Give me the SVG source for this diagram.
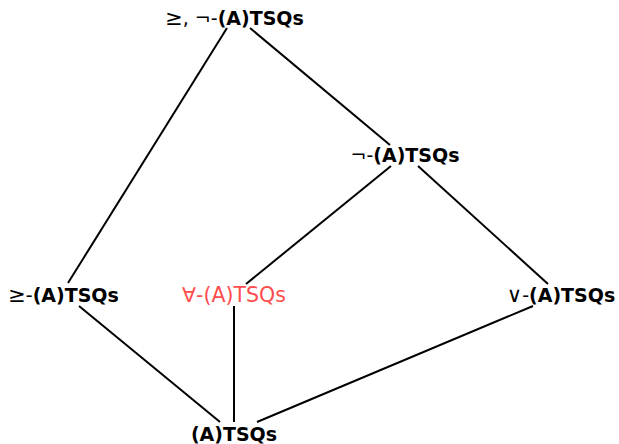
<svg xmlns="http://www.w3.org/2000/svg" width="619" height="444" viewBox="0 0 619 444">
<style>
text{font-family:"DejaVu Sans",sans-serif;font-size:19px;text-anchor:middle;fill:#000}
.b{font-weight:bold}
.s{font-size:21px}
.red{fill:#ff4d4d;font-size:20.5px}
.e{stroke:#000;stroke-width:2;fill:none}
</style>
<rect width="619" height="444" fill="#fff"/>
<g id="edges">
<line class="e" x1="250" y1="28" x2="390" y2="145"/>
<line class="e" x1="227" y1="28" x2="68" y2="283"/>
<line class="e" x1="391" y1="166" x2="246" y2="284"/>
<line class="e" x1="418" y1="166" x2="548" y2="284"/>
<line class="e" x1="79" y1="306" x2="220" y2="422"/>
<line class="e" x1="234" y1="306" x2="234" y2="422"/>
<line class="e" x1="533" y1="306" x2="257" y2="422"/>
</g>
<g id="n-top"><text x="234.5" y="25"><tspan class="s">≥</tspan>, ¬-<tspan class="b">(A)TSQs</tspan></text></g>
<g id="n-neg"><text x="405" y="162">¬-<tspan class="b">(A)TSQs</tspan></text></g>
<g id="n-geq"><text x="63.5" y="302"><tspan class="s">≥</tspan>-<tspan class="b">(A)TSQs</tspan></text></g>
<g id="n-forall"><text class="red" x="234" y="302">∀-(A)TSQs</text></g>
<g id="n-or"><text x="561" y="302"><tspan class="s">∨</tspan>-<tspan class="b">(A)TSQs</tspan></text></g>
<g id="n-bot"><text class="b" x="234" y="441">(A)TSQs</text></g>
</svg>
